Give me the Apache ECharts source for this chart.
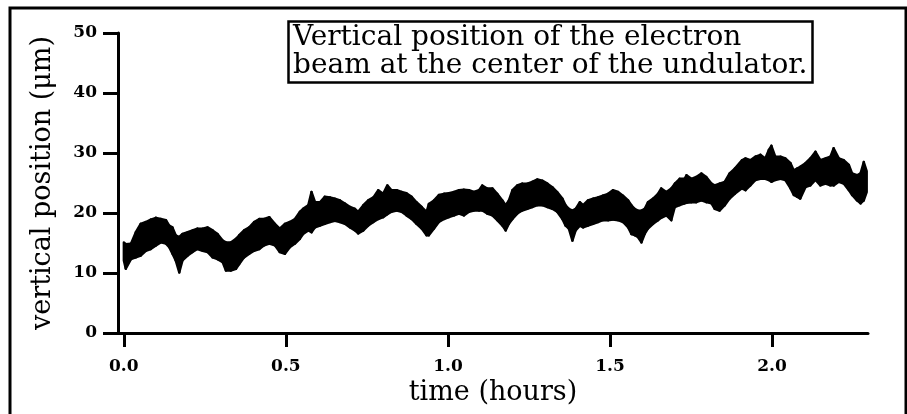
<!DOCTYPE html>
<html>
<head>
<meta charset="utf-8">
<title>Vertical position of the electron beam</title>
<script src="https://cdn.jsdelivr.net/npm/echarts@6.0.0/dist/echarts.min.js"></script>
<style>
  html, body { margin: 0; padding: 0; background: #fff; }
  #chart { width: 907px; height: 414px; }
</style>
</head>
<body>
<div id="chart"></div>
<script>
// time of each sample (hours)
var timeH = [
  0.000, 0.006, 0.022, 0.037, 0.052, 0.068, 0.083, 0.099, 0.114, 0.130,
  0.140, 0.150, 0.160, 0.171, 0.181, 0.197, 0.212, 0.227, 0.243, 0.258,
  0.274, 0.289, 0.305, 0.315, 0.330, 0.346, 0.356, 0.371, 0.387, 0.402,
  0.418, 0.433, 0.449,
  0.466, 0.481, 0.497, 0.512, 0.528, 0.543, 0.553, 0.569, 0.579, 0.590,
  0.605, 0.620, 0.636, 0.651, 0.667, 0.682, 0.698, 0.713, 0.723, 0.739,
  0.754, 0.770, 0.785, 0.800, 0.813, 0.826, 0.842, 0.857, 0.872, 0.888,
  0.903, 0.919, 0.934,
  0.941, 0.957, 0.972, 0.988, 1.003, 1.019, 1.034, 1.049, 1.065, 1.080,
  1.096, 1.106, 1.121, 1.137, 1.152, 1.168, 1.178, 1.188, 1.199, 1.214,
  1.229, 1.245, 1.260, 1.276, 1.291, 1.307, 1.322, 1.337, 1.353, 1.363,
  1.373, 1.384, 1.394, 1.407,
  1.417, 1.432, 1.448, 1.463, 1.478, 1.494, 1.509, 1.525, 1.540, 1.556,
  1.566, 1.576, 1.586, 1.597, 1.607, 1.617, 1.633, 1.648, 1.658, 1.674,
  1.689, 1.700, 1.715, 1.730, 1.736, 1.751, 1.766, 1.782, 1.797, 1.813,
  1.823, 1.838, 1.854, 1.869, 1.885,
  1.907, 1.918, 1.933, 1.949, 1.964, 1.979, 1.990, 1.998, 2.010, 2.026,
  2.041, 2.057, 2.067, 2.077, 2.087, 2.103, 2.118, 2.134, 2.149, 2.165,
  2.180, 2.190, 2.206, 2.221, 2.237, 2.247, 2.262, 2.273, 2.283, 2.292
];
// top edge of the noisy trace (um)
var upper = [
  15.1, 14.8, 14.9, 16.8, 18.2, 18.5, 18.9, 19.2, 19.0, 18.8,
  17.9, 17.6, 16.3, 16.0, 16.5, 16.8, 17.1, 17.4, 17.4, 17.6,
  17.1, 16.5, 15.4, 15.1, 15.1, 15.7, 16.3, 17.1, 17.6, 18.5,
  19.0, 19.0, 19.3,
  18.2, 17.4, 18.2, 18.5, 19.0, 20.2, 20.7, 21.3, 23.5, 21.8,
  21.8, 22.7, 22.6, 22.4, 22.1, 21.6, 21.0, 20.7, 20.2, 21.3,
  22.1, 22.6, 23.8, 23.2, 24.6, 23.8, 23.8, 23.5, 23.3, 22.7,
  21.8, 21.0, 20.2,
  21.5, 22.1, 23.0, 23.2, 23.3, 23.5, 23.8, 23.9, 23.8, 23.5,
  23.8, 24.6, 24.1, 24.1, 23.2, 22.1, 21.3, 22.1, 23.8, 24.6,
  24.9, 24.9, 25.2, 25.6, 25.4, 24.9, 24.3, 23.5, 22.4, 21.3,
  20.7, 20.4, 20.7, 21.8,
  21.3, 22.1, 22.4, 22.6, 22.9, 23.2, 23.8, 23.5, 22.9, 22.1,
  21.3, 20.7, 20.4, 20.4, 20.7, 21.8, 22.4, 23.2, 24.1, 23.5,
  24.1, 24.9, 25.7, 25.7, 26.3, 25.7, 26.0, 26.6, 26.0, 24.9,
  24.6, 24.9, 25.2, 26.6, 27.4,
  28.8, 29.1, 28.8, 29.4, 29.7, 29.1, 30.5, 31.2, 29.4, 29.4,
  29.1, 28.3, 27.1, 27.4, 27.7, 28.3, 29.1, 30.2, 28.8, 29.1,
  29.4, 30.8, 29.1, 28.8, 28.0, 26.6, 26.3, 26.6, 28.5, 27.0
];
// bottom edge of the noisy trace (um)
var lower = [
  12.1, 10.7, 12.3, 12.6, 12.9, 13.7, 14.0, 14.6, 15.1, 14.9,
  14.3, 13.2, 12.1, 10.1, 12.1, 12.9, 13.5, 14.0, 13.7, 13.5,
  12.6, 12.3, 11.8, 10.4, 10.4, 10.7, 11.5, 12.6, 13.2, 13.7,
  14.0, 14.6, 14.9,
  14.6, 13.5, 13.2, 14.3, 14.9, 15.7, 16.5, 17.1, 16.8, 17.6,
  17.9, 18.2, 18.5, 18.7, 18.5, 18.2, 17.6, 17.1, 16.6, 17.1,
  17.9, 18.5, 19.0, 19.3, 19.8, 20.2, 20.4, 20.2, 19.6, 19.0,
  18.2, 17.4, 16.3,
  16.3, 17.4, 18.5, 19.0, 19.3, 19.6, 19.9, 19.6, 20.2, 20.4,
  20.4, 20.4, 19.9, 19.6, 18.8, 17.9, 17.1, 18.2, 19.0, 19.9,
  20.4, 20.7, 21.0, 21.3, 21.3, 21.0, 20.7, 20.2, 19.0, 17.9,
  17.4, 15.4, 17.1, 17.9,
  17.6, 17.9, 18.2, 18.5, 18.8, 18.8, 18.9, 18.8, 18.5, 17.6,
  16.5, 16.3, 16.0, 15.1, 16.5, 17.4, 18.2, 18.8, 19.2, 19.6,
  18.8, 21.0, 21.3, 21.6, 21.7, 21.8, 21.8, 22.1, 21.8, 21.6,
  20.7, 20.4, 21.3, 22.4, 23.2,
  24.1, 23.8, 24.6, 25.5, 25.7, 25.7, 25.5, 25.2, 25.5, 25.7,
  25.5, 24.1, 23.0, 22.7, 22.4, 24.3, 24.6, 25.5, 24.6, 24.9,
  24.6, 24.6, 25.2, 24.9, 23.8, 23.0, 22.1, 21.6, 22.1, 23.5
];
var xTicks = [0, 0.5, 1.0, 1.5, 2.0];
var boxLines = ['Vertical position of the electron', 'beam at the center of the undulator.'];

var serif = 'DejaVu Serif';
var bandData = timeH.map(function (t, i) { return [t, upper[i], lower[i]]; });

// one filled quad between sample i and i+1, top edge to bottom edge
function renderBand(params, api) {
  var i = params.dataIndex;
  if (i >= timeH.length - 1) return null;
  var a = api.coord([timeH[i], upper[i]]);
  var b = api.coord([timeH[i + 1], upper[i + 1]]);
  var c = api.coord([timeH[i + 1], lower[i + 1]]);
  var d = api.coord([timeH[i], lower[i]]);
  return {
    type: 'polygon',
    shape: { points: [a, b, c, d] },
    style: { fill: '#000', stroke: '#000', lineWidth: 2.4, lineJoin: 'round' }
  };
}

var chart = echarts.init(document.getElementById('chart'));
chart.setOption({
  animation: false,
  backgroundColor: '#fff',
  title: {
    text: boxLines.join('\n'),
    left: 288,
    top: 21,
    padding: [3, 5, 3, 5],
    borderColor: '#000',
    borderWidth: 2.5,
    backgroundColor: '#fff',
    textStyle: { fontFamily: serif, fontSize: 28, fontWeight: 'normal', color: '#000', lineHeight: 28 }
  },
  grid: { left: 118, right: 39, top: 33, bottom: 81, outerBoundsMode: 'none' },
  xAxis: {
    type: 'value',
    min: -0.018,
    max: 2.296,
    name: 'time (hours)',
    nameLocation: 'middle',
    nameGap: 44,
    nameTextStyle: { fontFamily: serif, fontSize: 27, color: '#000' },
    axisLine: { onZero: false, lineStyle: { color: '#000', width: 3 } },
    axisTick: { customValues: xTicks, length: 14, lineStyle: { color: '#000', width: 3 } },
    axisLabel: {
      customValues: xTicks, margin: 25, fontFamily: serif, fontSize: 17, fontWeight: 'bold', color: '#000',
      formatter: function (v) { return v.toFixed(1); }
    },
    splitLine: { show: false }
  },
  yAxis: {
    type: 'value',
    min: 0,
    max: 50,
    interval: 10,
    name: 'vertical position (\u03bcm)',
    nameLocation: 'middle',
    nameGap: 62,
    nameTextStyle: { fontFamily: serif, fontSize: 27, color: '#000' },
    axisLine: { show: true, onZero: false, lineStyle: { color: '#000', width: 3 } },
    axisTick: { show: true, length: 15, lineStyle: { color: '#000', width: 3 } },
    axisLabel: { margin: 21, fontFamily: serif, fontSize: 17, fontWeight: 'bold', color: '#000' },
    splitLine: { show: false }
  },
  graphic: [{
    type: 'rect',
    silent: true,
    z: 100,
    shape: { x: 10, y: 8, width: 896, height: 420 },
    style: { fill: 'none', stroke: '#000', lineWidth: 3 }
  }],
  series: [{
    name: 'beam position',
    type: 'custom',
    data: bandData,
    encode: { x: 0, y: [1, 2] },
    renderItem: renderBand
  }]
});
</script>
</body>
</html>
